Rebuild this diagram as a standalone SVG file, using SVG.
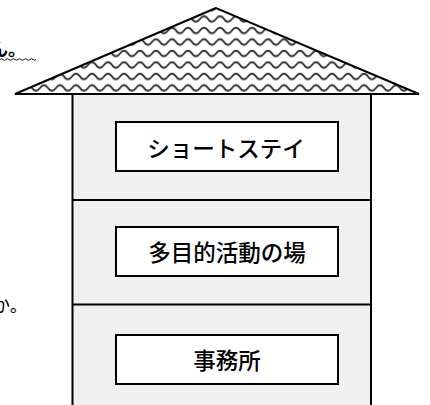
<svg xmlns="http://www.w3.org/2000/svg" width="430" height="405" viewBox="0 0 430 405">
  <style>
    .lbl { font-family: "Noto Sans CJK JP", "Noto Sans", sans-serif; font-size: 22.5px; font-weight: 500; text-anchor: middle; dominant-baseline: central; fill: #000; }
    .box { fill: #fff; stroke: #000; stroke-width: 2; }
    .frag { font-family: "Noto Sans CJK JP", sans-serif; font-size: 18px; fill: #000; }
  </style>
  <defs>
    <pattern id="wave" patternUnits="userSpaceOnUse" width="16" height="11.5" x="0" y="2">
      <path d="M-8,5.5 Q-4,0 0,5.5 T8,5.5 T16,5.5 T24,5.5" fill="none" stroke="#3a3a3a" stroke-width="2"/>
    </pattern>
  </defs>
  <rect width="430" height="405" fill="#fff"/>

  <!-- cropped neighbouring text -->
  <text class="frag" x="-10" y="56" font-weight="bold">ん。</text>
  <path d="M0,59.5 q1.5,-1.5 3,0 t3,0 t3,0 t3,0 t3,0 t3,0 t3,0 t3,0 t3,0 t3,0 t3,0 t3,0" fill="none" stroke="#000" stroke-width="0.9"/>
  <text class="frag" x="-8" y="312">か。</text>

  <g id="house">
    <rect x="72.5" y="94" width="298.5" height="320" fill="#f0f0f0" stroke="#000" stroke-width="2"/>
    <polygon points="216,8 15,94 419,94" fill="url(#wave)" stroke="#000" stroke-width="2" stroke-linejoin="miter"/>
    <line x1="72.5" y1="200" x2="371" y2="200" stroke="#000" stroke-width="2"/>
    <line x1="72.5" y1="304.5" x2="371" y2="304.5" stroke="#000" stroke-width="2"/>
  </g>

  <g id="short-stay">
    <rect class="box" x="116" y="122" width="222" height="49"/>
    <text class="lbl" x="226" y="147">ショートステイ</text>
  </g>
  <g id="multipurpose">
    <rect class="box" x="116" y="227" width="222" height="49"/>
    <text class="lbl" x="227" y="251">多目的活動の場</text>
  </g>
  <g id="office">
    <rect class="box" x="116" y="335" width="222" height="49"/>
    <text class="lbl" x="227" y="359">事務所</text>
  </g>
</svg>
